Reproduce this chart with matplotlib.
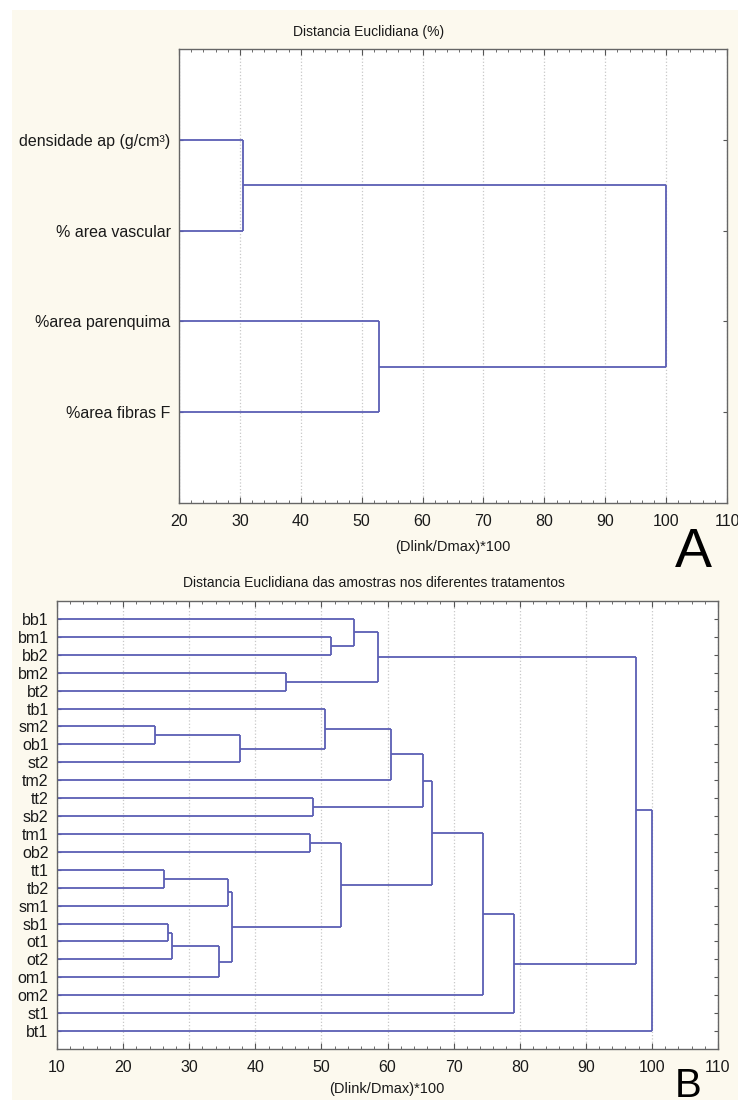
import matplotlib
matplotlib.use('Agg')
import matplotlib.pyplot as plt
from matplotlib.patches import Rectangle
from matplotlib.ticker import MultipleLocator

plt.rcParams['font.family'] = ['Liberation Sans', 'DejaVu Sans']

# Painel A: variaveis e uniao dos grupos (Dlink/Dmax)*100
folhas_a = ['densidade ap (g/cm³)', '% area vascular', '%area parenquima', '%area fibras F']
esq_a = [0, 2, 4]
dir_a = [1, 3, 5]
altura_a = [30.5, 52.9, 100.0]

# Painel B: amostras nos tratamentos
folhas_b = ['bb1', 'bm1', 'bb2', 'bm2', 'bt2', 'tb1', 'sm2', 'ob1', 'st2', 'tm2', 'tt2', 'sb2',
            'tm1', 'ob2', 'tt1', 'tb2', 'sm1', 'sb1', 'ot1', 'ot2', 'om1', 'om2', 'st1', 'bt1']
esq_b = [1, 0, 3, 25, 6, 28, 5, 30, 10, 31, 12, 14, 35, 17, 37, 38, 36, 34, 33, 42, 43, 27, 45]
dir_b = [2, 24, 4, 26, 7, 8, 29, 9, 11, 32, 13, 15, 16, 18, 19, 20, 39, 40, 41, 21, 22, 44, 23]
altura_b = [51.5, 54.9, 44.7, 58.5, 24.8, 37.7, 50.6, 60.5, 48.8, 65.3, 48.3, 26.2, 35.9,
            26.8, 27.4, 34.5, 36.5, 52.9, 66.8, 74.4, 79.1, 97.6, 100.0]

W, H = 738, 1106
cor_linha = '#5b5eb4'
fundo = '#fcf9ee'


def dendro(ax, folhas, esq, dir_, altura, x0):
    n = len(folhas)
    pos = {i: (x0, i + 1) for i in range(n)}
    for k in range(len(altura)):
        xa, ya = pos[esq[k]]
        xb, yb = pos[dir_[k]]
        h = altura[k]
        ax.plot([xa, h], [ya, ya], color=cor_linha, lw=1.3, solid_capstyle='butt')
        ax.plot([xb, h], [yb, yb], color=cor_linha, lw=1.3, solid_capstyle='butt')
        ax.plot([h, h], [ya, yb], color=cor_linha, lw=1.3, solid_capstyle='butt')
        pos[n + k] = (h, (ya + yb) / 2)


def estilo(ax, folhas, xmin, xmax):
    n = len(folhas)
    ax.set_facecolor('white')
    ax.set_xlim(xmin, xmax)
    ax.set_ylim(n + 1, 0)
    ax.xaxis.set_major_locator(MultipleLocator(10))
    ax.xaxis.set_minor_locator(MultipleLocator(2))
    ax.set_yticks(range(1, n + 1))
    ax.set_yticklabels(folhas)
    ax.grid(axis='x', which='major', color='#c8c8c8', linestyle=':', lw=0.9)
    ax.tick_params(axis='x', which='both', direction='in', top=True, bottom=True,
                   colors='#555555', labelcolor='#1a1a1a', labelsize=11.5, pad=8)
    ax.tick_params(axis='x', which='major', length=4)
    ax.tick_params(axis='x', which='minor', length=2.5)
    ax.tick_params(axis='y', direction='in', left=True, right=True, length=3,
                   colors='#555555', labelcolor='#1a1a1a', labelsize=11.5, pad=6)
    for s in ax.spines.values():
        s.set_color('#666666')
        s.set_linewidth(1.0)


fig = plt.figure(figsize=(W / 100, H / 100), dpi=100, facecolor='white')
fig.patches.append(Rectangle((12 / W, 1 - 1100 / H), 1 - 12 / W, (1100 - 10) / H,
                             transform=fig.transFigure, facecolor=fundo, edgecolor='none', zorder=-10))

# Painel A
ax_a = fig.add_axes([179 / W, 1 - 503 / H, (727 - 179) / W, (503 - 49) / H])
estilo(ax_a, folhas_a, 20, 110)
dendro(ax_a, folhas_a, esq_a, dir_a, altura_a, 20)
fig.text(369 / W, 1 - 32 / H, 'Distancia Euclidiana (%)', ha='center', va='center', fontsize=10, color='#1a1a1a')
fig.text(453 / W, 1 - 547 / H, '(Dlink/Dmax)*100', ha='center', va='center', fontsize=10.5, color='#1a1a1a')
fig.text(693 / W, 1 - 553 / H, 'A', ha='center', va='center', fontsize=40, color='black')

# Painel B
ax_b = fig.add_axes([57 / W, 1 - 1049 / H, (718 - 57) / W, (1049 - 601) / H])
estilo(ax_b, folhas_b, 10, 110)
dendro(ax_b, folhas_b, esq_b, dir_b, altura_b, 10)
fig.text(374 / W, 1 - 583 / H, 'Distancia Euclidiana das amostras nos diferentes tratamentos',
         ha='center', va='center', fontsize=10, color='#1a1a1a')
fig.text(387 / W, 1 - 1089 / H, '(Dlink/Dmax)*100', ha='center', va='center', fontsize=10.5, color='#1a1a1a')
fig.text(688 / W, 1 - 1105 / H, 'B', ha='center', va='bottom', fontsize=29, color='black')

fig.savefig('out.png', dpi=100, facecolor=fig.get_facecolor())
